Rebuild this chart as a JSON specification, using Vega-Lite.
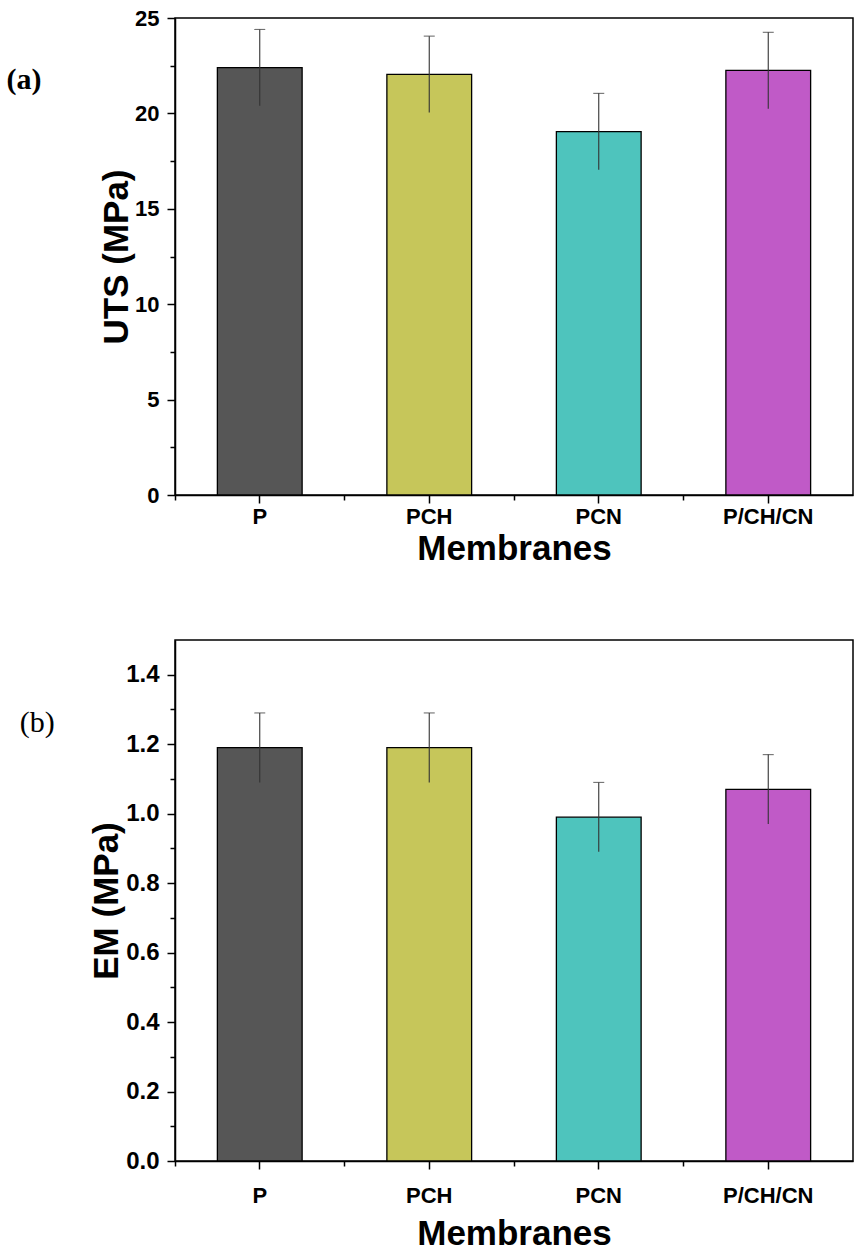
{
  "$schema": "https://vega.github.io/schema/vega-lite/v6.json",
  "padding": {"left": 5, "top": 6, "right": 2, "bottom": 2},
  "background": "white",
  "datasets": {
    "uts": [
      {"membrane": "P", "value": 22.4, "lo": 20.4, "hi": 24.4},
      {"membrane": "PCH", "value": 22.05, "lo": 20.05, "hi": 24.05},
      {"membrane": "PCN", "value": 19.05, "lo": 17.05, "hi": 21.05},
      {"membrane": "P/CH/CN", "value": 22.25, "lo": 20.25, "hi": 24.25}
    ],
    "em": [
      {"membrane": "P", "value": 1.19, "lo": 1.09, "hi": 1.29},
      {"membrane": "PCH", "value": 1.19, "lo": 1.09, "hi": 1.29},
      {"membrane": "PCN", "value": 0.99, "lo": 0.89, "hi": 1.09},
      {"membrane": "P/CH/CN", "value": 1.07, "lo": 0.97, "hi": 1.17}
    ]
  },
  "vconcat": [
    {
      "width": 678,
      "height": 477,
      "data": {"name": "uts"},
      "title": {"text": "(a)", "orient": "left", "anchor": "end", "angle": 0, "align": "right", "baseline": "middle", "offset": 23, "dy": 73, "font": "Liberation Serif", "fontSize": 30, "fontWeight": "bold", "color": "black"},
      "layer": [
        {
          "mark": {"type": "bar", "stroke": "black", "strokeWidth": 1.3},
          "encoding": {
            "x": {"field": "membrane", "type": "nominal", "sort": null,
                  "scale": {"paddingInner": 0.5, "paddingOuter": 0.25},
                  "axis": {"title": "Membranes", "labelAngle": 0, "labelPadding": 3, "titlePadding": 4}},
            "y": {"field": "value", "type": "quantitative",
                  "scale": {"domain": [0, 25], "nice": false},
                  "axis": {"title": "UTS (MPa)", "values": [0, 5, 10, 15, 20, 25], "labelPadding": 8, "titlePadding": 0}},
            "color": {"field": "membrane", "type": "nominal", "sort": null, "legend": null,
                      "scale": {"domain": ["P", "PCH", "PCN", "P/CH/CN"], "range": ["#565656", "#c6c65a", "#4ec4bd", "#c05ac7"]}}
          }
        },
        {
          "mark": {"type": "rule", "color": "#333333", "strokeWidth": 1.1},
          "encoding": {
            "x": {"field": "membrane", "type": "nominal", "sort": null,
                  "axis": {"orient": "bottom", "bandPosition": -0.5, "labels": false, "domain": false, "title": null, "tickSize": 5}},
            "y": {"field": "lo", "type": "quantitative",
                  "axis": {"orient": "left", "values": [2.5, 7.5, 12.5, 17.5, 22.5], "labels": false, "domain": false, "title": null, "tickSize": 5}},
            "y2": {"field": "hi"}
          }
        },
        {
          "mark": {"type": "tick", "color": "#333333", "thickness": 1.1, "size": 11},
          "encoding": {
            "x": {"field": "membrane", "type": "nominal", "sort": null, "axis": null},
            "y": {"field": "hi", "type": "quantitative", "axis": null}
          }
        }
      ],
      "resolve": {"axis": {"x": "independent", "y": "independent"}}
    },
    {
      "width": 678,
      "height": 521,
      "data": {"name": "em"},
      "title": {"text": "(b)", "orient": "left", "anchor": "end", "angle": 0, "align": "right", "baseline": "middle", "offset": 0, "dy": 83, "font": "Liberation Serif", "fontSize": 30, "fontWeight": "normal", "color": "black"},
      "layer": [
        {
          "mark": {"type": "bar", "stroke": "black", "strokeWidth": 1.3},
          "encoding": {
            "x": {"field": "membrane", "type": "nominal", "sort": null,
                  "scale": {"paddingInner": 0.5, "paddingOuter": 0.25},
                  "axis": {"title": "Membranes", "labelAngle": 0, "labelPadding": 16, "titlePadding": 10}},
            "y": {"field": "value", "type": "quantitative",
                  "scale": {"domain": [0, 1.5], "nice": false},
                  "axis": {"title": "EM (MPa)", "values": [0, 0.2, 0.4, 0.6, 0.8, 1.0, 1.2, 1.4], "format": ".1f", "labelPadding": 8, "labelFontSize": 24, "titlePadding": 1}},
            "color": {"field": "membrane", "type": "nominal", "sort": null, "legend": null,
                      "scale": {"domain": ["P", "PCH", "PCN", "P/CH/CN"], "range": ["#565656", "#c6c65a", "#4ec4bd", "#c05ac7"]}}
          }
        },
        {
          "mark": {"type": "rule", "color": "#333333", "strokeWidth": 1.1},
          "encoding": {
            "x": {"field": "membrane", "type": "nominal", "sort": null,
                  "axis": {"orient": "bottom", "bandPosition": -0.5, "labels": false, "domain": false, "title": null, "tickSize": 5}},
            "y": {"field": "lo", "type": "quantitative",
                  "axis": {"orient": "left", "values": [0.1, 0.3, 0.5, 0.7, 0.9, 1.1, 1.3], "labels": false, "domain": false, "title": null, "tickSize": 5}},
            "y2": {"field": "hi"}
          }
        },
        {
          "mark": {"type": "tick", "color": "#333333", "thickness": 1.1, "size": 11},
          "encoding": {
            "x": {"field": "membrane", "type": "nominal", "sort": null, "axis": null},
            "y": {"field": "hi", "type": "quantitative", "axis": null}
          }
        }
      ],
      "resolve": {"axis": {"x": "independent", "y": "independent"}}
    }
  ],
  "spacing": 72,
  "config": {
    "font": "Liberation Sans",
    "view": {"stroke": "black", "strokeWidth": 1.5},
    "axis": {
      "grid": false,
      "labelFont": "Liberation Sans",
      "labelFontSize": 22,
      "labelFontWeight": "bold",
      "labelColor": "black",
      "titleFont": "Liberation Sans",
      "titleFontSize": 35,
      "titleFontWeight": "bold",
      "titleColor": "black",
      "domainColor": "black",
      "domainWidth": 1.5,
      "tickColor": "black",
      "tickWidth": 1.5,
      "tickSize": 8
    }
  }
}
